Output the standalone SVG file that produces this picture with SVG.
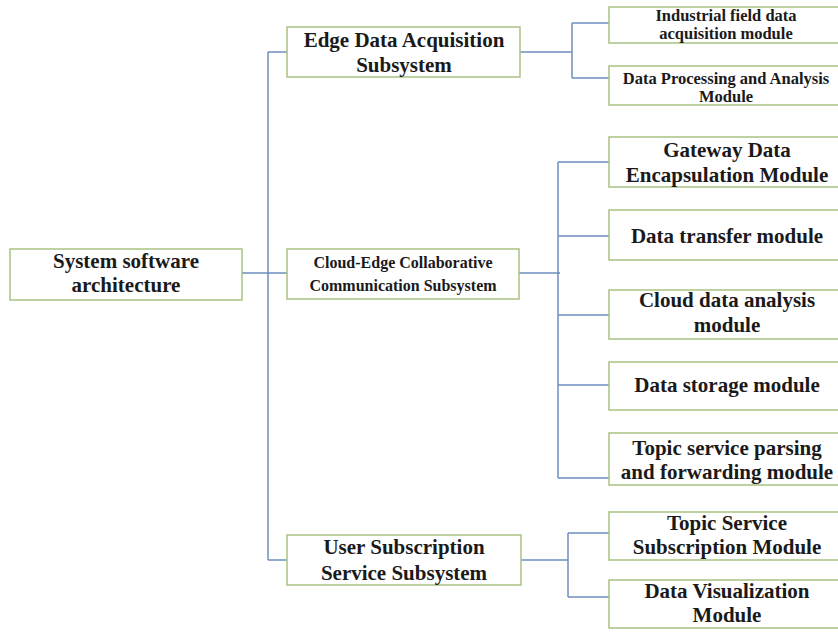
<svg xmlns="http://www.w3.org/2000/svg" width="838" height="632" viewBox="0 0 838 632">
<style>
.box{fill:#fff;stroke:#a8c282;stroke-width:1.5}
.ln{fill:none;stroke:#6f8fbd;stroke-width:1.5}
text{font-family:"Liberation Serif","Times New Roman",serif;font-weight:bold;fill:#1a1a1a;text-anchor:middle}
.l{font-size:21px}
.s{font-size:16px}
.t{font-size:16.5px}
</style>
<rect width="838" height="632" fill="#fff"/>
<g id="connectors">
<path class="ln" d="M242 273H268M268 52V560M268 52H287M268 273H287M268 560H287"/>
<path class="ln" d="M520 52H572M572 23V78M572 23H609M572 78H609"/>
<path class="ln" d="M519 273H560M558 162V478M558 162H609M558 236H609M558 315H609M558 385H609M558 478H609"/>
<path class="ln" d="M521 560H568M568 533V597M568 533H609M568 597H609"/>
</g>
<g id="root"><rect class="box" x="10" y="249" width="232" height="51"/><text class="l" x="126" y="268">System software</text><text class="l" x="126" y="292">architecture</text></g>
<g id="edge"><rect class="box" x="287" y="27" width="233" height="50"/><text class="l" x="404" y="47">Edge Data Acquisition</text><text class="l" x="404" y="72">Subsystem</text></g>
<g id="cloud"><rect class="box" x="287" y="249" width="232" height="50"/><text class="s" x="403" y="268">Cloud-Edge Collaborative</text><text class="s" x="403" y="291">Communication Subsystem</text></g>
<g id="user"><rect class="box" x="287" y="535" width="234" height="50"/><text class="l" x="404" y="554">User Subscription</text><text class="l" x="404" y="580">Service Subsystem</text></g>
<g id="industrial"><rect class="box" x="609" y="7" width="232" height="36"/><text class="t" x="726" y="21">Industrial field data</text><text class="t" x="726" y="39">acquisition module</text></g>
<g id="processing"><rect class="box" x="609" y="66" width="232" height="39"/><text class="t" x="726" y="84">Data Processing and Analysis</text><text class="t" x="726" y="102">Module</text></g>
<g id="gateway"><rect class="box" x="609" y="137" width="232" height="50"/><text class="l" x="727" y="157">Gateway Data</text><text class="l" x="727" y="182">Encapsulation Module</text></g>
<g id="transfer"><rect class="box" x="609" y="210" width="232" height="50"/><text class="l" x="727" y="243">Data transfer module</text></g>
<g id="analysis"><rect class="box" x="609" y="290" width="232" height="49"/><text class="l" x="727" y="307">Cloud data analysis</text><text class="l" x="727" y="332">module</text></g>
<g id="storage"><rect class="box" x="609" y="362" width="232" height="48"/><text class="l" x="727" y="392">Data storage module</text></g>
<g id="parsing"><rect class="box" x="609" y="433" width="232" height="52"/><text class="l" x="727" y="455">Topic service parsing</text><text class="l" x="727" y="479">and forwarding module</text></g>
<g id="subscription"><rect class="box" x="609" y="512" width="232" height="48"/><text class="l" x="727" y="530">Topic Service</text><text class="l" x="727" y="554">Subscription Module</text></g>
<g id="visualization"><rect class="box" x="609" y="580" width="232" height="48"/><text class="l" x="727" y="598">Data Visualization</text><text class="l" x="727" y="622">Module</text></g>
</svg>
